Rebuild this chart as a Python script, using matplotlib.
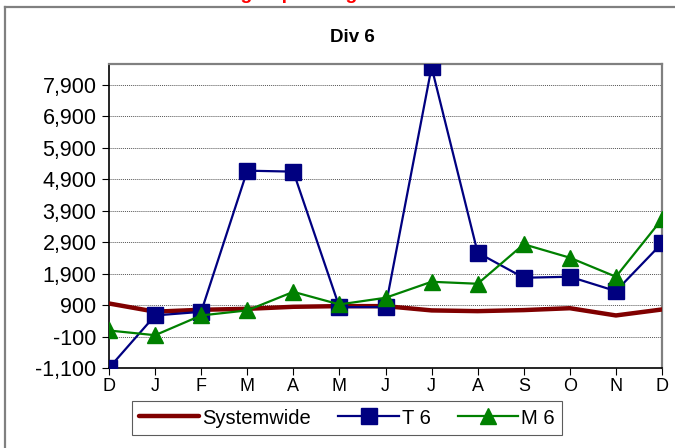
"""Div 6 monthly spending chart."""

import matplotlib
matplotlib.use("Agg")
import matplotlib.pyplot as plt
from matplotlib.lines import Line2D
from matplotlib.ticker import FuncFormatter

plt.rcParams['font.family'] = ['Liberation Sans', 'DejaVu Sans']

months = ['D', 'J', 'F', 'M', 'A', 'M', 'J', 'J', 'A', 'S', 'O', 'N', 'D']
systemwide = [950, 690, 750, 780, 845, 866, 866, 730, 707, 740, 800, 570, 760]
t6 = [-1100, 570, 685, 5170, 5140, 834, 834, 8460, 2565, 1768, 1800, 1344, 2865]
m6 = [92, -58, 570, 730, 1320, 920, 1131, 1640, 1577, 2832, 2405, 1800, 3630]
yticks = list(range(-1100, 8000, 1000))

fig = plt.figure(figsize=(6.75, 4.48), dpi=100)
ax = fig.add_axes([109 / 675, 80 / 448, 553 / 675, 304 / 448])

x = list(range(len(months)))
ax.plot(x, systemwide, color='#800000', lw=3.2, solid_capstyle='round',
        label='Systemwide', zorder=3)
ax.plot(x, t6, color='#000080', lw=1.6, marker='s', ms=11,
        label='T 6', zorder=4)
ax.plot(x, m6, color='#008000', lw=1.6, marker='^', ms=11,
        label='M 6', zorder=5)

ax.set_xlim(0, len(months) - 1)
ax.set_ylim(-1100, 8560)
ax.set_xticks(x)
ax.set_xticklabels(months, fontsize=13)
ax.set_yticks(yticks)
ax.yaxis.set_major_formatter(FuncFormatter(lambda v, p: f"{int(v):,}"))
ax.tick_params(axis='y', labelsize=15.5, length=5, width=0.8, pad=4)
ax.tick_params(axis='x', length=5, width=0.8, pad=2)
ax.grid(axis='y', color='#555555', ls=(0, (1, 1)), lw=0.7)
ax.set_axisbelow(True)
for side in ['left', 'bottom']:
    ax.spines[side].set_color('black')
    ax.spines[side].set_linewidth(1.2)
for side in ['top', 'right']:
    ax.spines[side].set_color('#808080')
    ax.spines[side].set_linewidth(1.6)
for lbl in ax.get_xticklabels() + ax.get_yticklabels():
    lbl.set_clip_on(False)

fig.text(352 / 675, 1 - 37 / 448, 'Div 6', fontsize=13.5, fontweight='bold',
         ha='center', va='center')

leg = fig.legend(loc='center', bbox_to_anchor=(347 / 675, 1 - 418 / 448),
                 ncol=3, fontsize=14.5, frameon=True, fancybox=False,
                 edgecolor='#333333', handlelength=3.0, handletextpad=0.15,
                 columnspacing=1.35, borderpad=0.35)
leg.get_frame().set_linewidth(0.8)

# outer chart frame (left and top edges only visible)
fig.add_artist(Line2D([5.5 / 675, 5.5 / 675], [0, 1 - 7.5 / 448],
                      transform=fig.transFigure, color='#808080', lw=1.6))
fig.add_artist(Line2D([5.5 / 675, 1], [1 - 7.5 / 448, 1 - 7.5 / 448],
                      transform=fig.transFigure, color='#808080', lw=1.6))

# page heading, mostly above the top edge as in the source image
fig.text(272 / 675, 1 + 1.5 / 448, 'Average Spending', color='red',
         fontsize=14, fontweight='bold', ha='center', va='baseline')

fig.savefig('out.png', dpi=100)
